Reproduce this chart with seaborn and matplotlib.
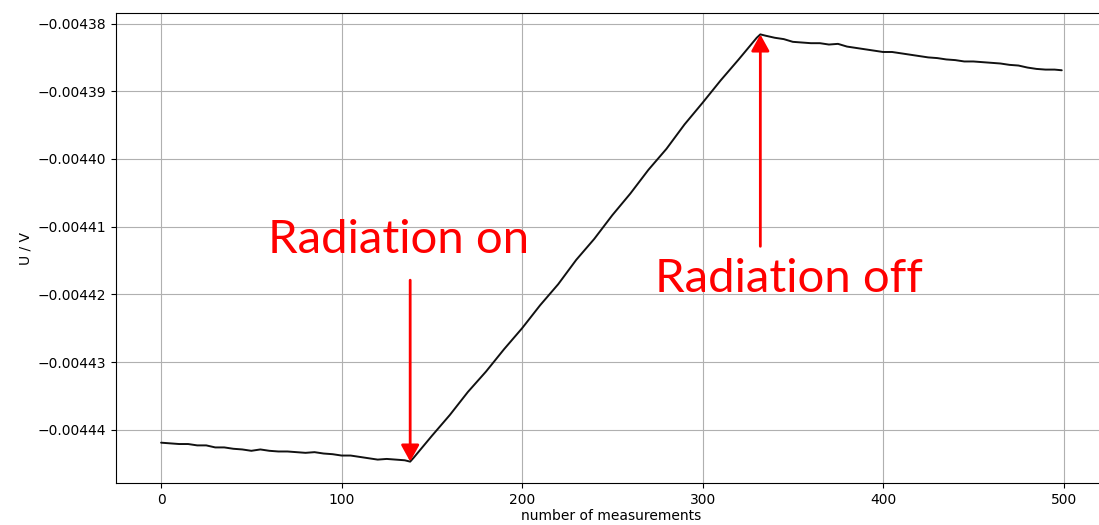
import matplotlib
matplotlib.use("Agg")
import matplotlib.pyplot as plt
import matplotlib.ticker as mticker
import seaborn as sns
import pandas as pd

# Measurement index and measured voltage (V)
idx_before = [0, 5, 10, 15, 20, 25, 30, 35, 40, 45, 50, 55, 60, 65, 70, 75, 80, 85,
              90, 95, 100, 105, 110, 115, 120, 125, 130, 135, 138]
u_before = [-0.0044419, -0.0044420, -0.0044421, -0.0044421, -0.0044423, -0.0044423,
            -0.0044426, -0.0044426, -0.0044428, -0.0044429, -0.0044431, -0.0044429,
            -0.0044431, -0.0044432, -0.0044432, -0.0044433, -0.0044434, -0.0044433,
            -0.0044435, -0.0044436, -0.0044438, -0.0044438, -0.0044440, -0.0044442,
            -0.0044444, -0.0044443, -0.0044444, -0.0044445, -0.0044447]

idx_rise = [140, 150, 160, 170, 180, 190, 200, 210, 220, 230, 240, 250, 260, 270,
            280, 290, 300, 310, 320, 330, 332]
u_rise = [-0.0044441, -0.0044409, -0.0044378, -0.0044344, -0.0044314, -0.0044281,
          -0.0044250, -0.0044216, -0.0044185, -0.0044149, -0.0044118, -0.0044083,
          -0.0044051, -0.0044016, -0.0043985, -0.0043949, -0.0043917, -0.0043884,
          -0.0043853, -0.0043821, -0.0043816]

idx_after = [335, 340, 345, 350, 355, 360, 365, 370, 375, 380, 385, 390, 395, 400,
             405, 410, 415, 420, 425, 430, 435, 440, 445, 450, 455, 460, 465, 470,
             475, 480, 485, 490, 495, 499]
u_after = [-0.0043818, -0.0043821, -0.0043823, -0.0043827, -0.0043828, -0.0043829,
           -0.0043829, -0.0043831, -0.0043830, -0.0043834, -0.0043836, -0.0043838,
           -0.0043840, -0.0043842, -0.0043842, -0.0043844, -0.0043846, -0.0043848,
           -0.0043850, -0.0043851, -0.0043853, -0.0043854, -0.0043856, -0.0043856,
           -0.0043857, -0.0043858, -0.0043859, -0.0043861, -0.0043862, -0.0043865,
           -0.0043867, -0.0043868, -0.0043868, -0.0043869]

x_ticks = [0, 100, 200, 300, 400, 500]
y_ticks = [-0.00444, -0.00443, -0.00442, -0.00441, -0.00440, -0.00439, -0.00438]

# Where radiation is switched on / off, and where each arrow starts (V)
on_idx, on_tail = 138, -0.0044179
off_idx, off_tail = 332, -0.0044129

df = pd.DataFrame({
    "n": idx_before + idx_rise + idx_after,
    "U": u_before + u_rise + u_after,
})

sns.set_theme(style="ticks", rc={
    "axes.grid": True,
    "grid.color": "#b0b0b0",
    "grid.linewidth": 0.8,
    "axes.edgecolor": "black",
    "axes.linewidth": 0.8,
    "xtick.color": "black",
    "ytick.color": "black",
    "axes.labelcolor": "black",
    "text.color": "black",
    "xtick.labelsize": 10,
    "ytick.labelsize": 10,
    "axes.labelsize": 10,
    "xtick.major.size": 3.5,
    "ytick.major.size": 3.5,
    "xtick.major.width": 0.8,
    "ytick.major.width": 0.8,
    "xtick.major.pad": 3.5,
    "ytick.major.pad": 3.5,
    "axes.labelpad": 4.0,
})
plt.rcParams["font.family"] = ["DejaVu Sans"]

fig = plt.figure(figsize=(10.99, 5.25), dpi=100)
ax = fig.add_axes([0.1056, 0.08, 0.9015, 0.8952])

sns.lineplot(data=df, x="n", y="U", ax=ax, color="#111111", linewidth=1.4)

ax.set_xticks(x_ticks)
ax.set_yticks(y_ticks)
ax.yaxis.set_major_formatter(
    mticker.FuncFormatter(lambda v, _: f"{v:.5f}".replace("-", "\u2212")))
ax.set_xlabel("number of measurements", labelpad=2)
ax.set_ylabel("U / V")
ax.margins(x=0.05, y=0.05)
for side in ("top", "right", "bottom", "left"):
    ax.spines[side].set_visible(True)

u_on = u_before[-1]
u_off = u_rise[-1]
arrow = dict(arrowstyle="-|>,head_length=1.0,head_width=0.55", color="red",
             lw=2.0, mutation_scale=10, shrinkA=0, shrinkB=0)
ax.annotate("", xy=(on_idx, u_on), xytext=(on_idx, on_tail), arrowprops=arrow)
ax.annotate("", xy=(off_idx, u_off), xytext=(off_idx, off_tail), arrowprops=arrow)

ax.text(59.3, -0.0044139, "Radiation on", color="red", fontsize=34,
        family="Lato", va="baseline", ha="left")
ax.text(273.7, -0.0044197, "Radiation off", color="red", fontsize=34,
        family="Lato", va="baseline", ha="left")

fig.savefig("out.png", dpi=100)
